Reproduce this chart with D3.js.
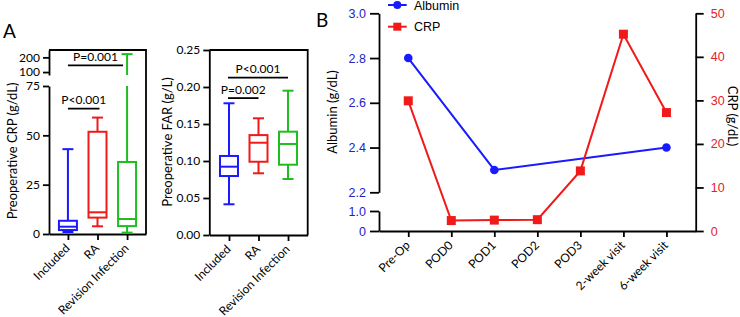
<!DOCTYPE html>
<html>
<head>
<meta charset="utf-8">
<script src="https://cdn.jsdelivr.net/npm/d3@7"></script>
<style>
  body { margin: 0; background: #fff; }
  svg text { font-family: Lato, "Open Sans", sans-serif; }
  .arial text, text.arial { font-family: "Liberation Sans", Arial, sans-serif; }
</style>
</head>
<body>
<div id="chart"></div>
<script>
// Panel A data (box plot stats)
const groups = ["Included", "RA", "Revision Infection"];
const groupColors = ["#1a1aff", "#f01a1a", "#1fbd1f"];

const crpMin = [1.0, 3.9, 0.7];
const crpQ1 = [2.0, 8.3, 4.0];
const crpMedian = [3.7, 11.0, 7.6];
const crpQ3 = [6.7, 51.8, 36.5];
const crpMax = [43, 59, 222];
const crpTicksLow = [0, 25, 50, 75];
const crpTicksHigh = [100, 200];

const farMin = [0.0415, 0.0834, 0.0757];
const farQ1 = [0.0797, 0.099, 0.095];
const farMedian = [0.0923, 0.1247, 0.123];
const farQ3 = [0.1068, 0.135, 0.1396];
const farMax = [0.178, 0.1577, 0.195];
const farTicks = [0, 0.05, 0.10, 0.15, 0.20, 0.25];

// Panel B data
const timepoints = ["Pre-Op", "POD0", "POD1", "POD2", "POD3", "2-week visit", "6-week visit"];
const albumin = [2.8, null, 2.3, null, null, null, 2.4];
const crp = [29.9, 2.4, 2.5, 2.6, 13.8, 45.2, 27.2];
const albTicksHigh = [2.2, 2.4, 2.6, 2.8, 3.0];
const albTicksLow = [0, 1.0];
const crpTicksB = [0, 10, 20, 30, 40, 50];

const blue = "#1a1aff", red = "#f01a1a";

const svg = d3.select("#chart").append("svg")
  .attr("width", 740).attr("height", 317);
svg.append("rect").attr("width", 740).attr("height", 317).attr("fill", "#fff");

// axis styling helper
function styleAxis(g, size) {
  g.selectAll("path, line").attr("stroke", "#000").attr("stroke-width", 1.8);
  g.selectAll("text").attr("fill", "#000").style("font-size", (size || 12) + "px");
  return g;
}

// draw a box plot, clipped to the given axis segments
function drawBox(g, cx, color, s, segs) {
  const bw = 18, cw = 11;
  const clipLine = (a, b) => segs.forEach(seg => {
    const lo = Math.max(a, seg.d[0]), hi = Math.min(b, seg.d[1]);
    if (lo < hi) g.append("line").attr("x1", cx).attr("x2", cx)
      .attr("y1", seg.y(lo)).attr("y2", seg.y(hi))
      .attr("stroke", color).attr("stroke-width", 2);
  });
  const hLine = (v, w) => {
    const seg = segs.find(sg => v >= sg.d[0] && v <= sg.d[1]);
    g.append("line").attr("x1", cx - w / 2).attr("x2", cx + w / 2)
      .attr("y1", seg.y(v)).attr("y2", seg.y(v))
      .attr("stroke", color).attr("stroke-width", 2);
  };
  clipLine(s.min, s.q1);
  clipLine(s.q3, s.max);
  hLine(s.min, cw);
  hLine(s.max, cw);
  const y = segs[0].y;
  g.append("rect").attr("x", cx - bw / 2).attr("width", bw)
    .attr("y", y(s.q3)).attr("height", y(s.q1) - y(s.q3))
    .attr("fill", "none").attr("stroke", color).attr("stroke-width", 2);
  hLine(s.median, bw);
}

function sigBar(g, x1, x2, y, label) {
  g.append("line").attr("x1", x1).attr("x2", x2).attr("y1", y).attr("y2", y)
    .attr("stroke", "#000").attr("stroke-width", 1.8);
  g.append("text").attr("x", (x1 + x2) / 2).attr("y", y - 4.5)
    .attr("text-anchor", "middle").style("font-size", "12px").text(label);
}

function frame(g, x0, x1, y0, y1) {
  g.append("path").attr("d", `M${x0},${y0}H${x1}V${y1}`)
    .attr("fill", "none").attr("stroke", "#000").attr("stroke-width", 1.8);
}

// bottom axis with labels rotated 45 degrees
function xLabels(g, x, yBase) {
  g.append("g").attr("transform", `translate(0,${yBase})`)
    .call(d3.axisBottom(x).tickSizeInner(6).tickSizeOuter(0))
    .call(gg => styleAxis(gg, 12))
    .selectAll("text")
      .attr("x", 0).attr("y", 0)
      .attr("text-anchor", "end")
      .attr("dy", "0.35em")
      .attr("transform", "translate(-1,12) rotate(-45)");
}

// ---------- Panel A: CRP ----------
svg.append("text").attr("x", 3).attr("y", 38).style("font-size", "19px").text("A");

const gA1 = svg.append("g");
const xA1 = d3.scalePoint().domain(groups).range([49, 146]).padding(0.64);
const yLow = d3.scaleLinear().domain([0, 75]).range([234, 86]);
const yHigh = d3.scaleLinear().domain([80, 250]).range([75, 50]);

gA1.append("g").attr("transform", "translate(49,0)")
  .call(d3.axisLeft(yLow).tickValues(crpTicksLow).tickSizeInner(6).tickSizeOuter(0).tickPadding(3))
  .call(g => styleAxis(g));
gA1.append("g").attr("transform", "translate(49,0)")
  .call(d3.axisLeft(yHigh).tickValues(crpTicksHigh).tickSizeInner(6).tickSizeOuter(0).tickPadding(3))
  .call(g => styleAxis(g));
frame(gA1, 49, 146, 50, 234);
xLabels(gA1, xA1, 234);

groups.forEach((grp, i) => drawBox(gA1, xA1(grp), groupColors[i],
  {min: crpMin[i], q1: crpQ1[i], median: crpMedian[i], q3: crpQ3[i], max: crpMax[i]},
  [{y: yLow, d: [0, 75]}, {y: yHigh, d: [80, 250]}]));

sigBar(gA1, xA1(groups[0]), xA1(groups[2]) - 4, yHigh(146), "P=0.001");
sigBar(gA1, xA1(groups[0]), xA1(groups[1]) + 2, yLow(63.5), "P<0.001");

gA1.append("text").attr("transform", "translate(17,151) rotate(-90)")
  .attr("text-anchor", "middle").style("font-size", "13px").text("Preoperative CRP (g/dL)");

// ---------- Panel A: FAR ----------
const gA2 = svg.append("g");
const xA2 = d3.scalePoint().domain(groups).range([209.3, 307.7]).padding(0.667);
const yFar = d3.scaleLinear().domain([0, 0.25]).range([235, 50]);

gA2.append("g").attr("transform", "translate(209.3,0)")
  .call(d3.axisLeft(yFar).tickValues(farTicks).tickFormat(d3.format(".2f"))
    .tickSizeInner(6).tickSizeOuter(0).tickPadding(3))
  .call(g => styleAxis(g));
frame(gA2, 209.3, 307.7, 50, 235);
xLabels(gA2, xA2, 235);

groups.forEach((grp, i) => drawBox(gA2, xA2(grp), groupColors[i],
  {min: farMin[i], q1: farQ1[i], median: farMedian[i], q3: farQ3[i], max: farMax[i]},
  [{y: yFar, d: [0, 0.25]}]));

sigBar(gA2, xA2(groups[0]) - 1, xA2(groups[2]), yFar(0.2128), "P<0.001");
sigBar(gA2, xA2(groups[0]) - 1, xA2(groups[1]), yFar(0.185), "P=0.002");

gA2.append("text").attr("transform", "translate(172,142) rotate(-90)")
  .attr("text-anchor", "middle").style("font-size", "13px").text("Preoperative FAR (g/L)");

// ---------- Panel B ----------
svg.append("text").attr("x", 316).attr("y", 27).style("font-size", "19px").text("B");

const gB = svg.append("g");
const xB = d3.scalePoint().domain(timepoints).range([379, 695.7]).padding(0.68);
const yAlbHigh = d3.scaleLinear().domain([2.2, 3.0]).range([192.3, 13.3]);
const yAlbLow = d3.scaleLinear().domain([0, 1.0]).range([231, 211]);
const yCrpB = d3.scaleLinear().domain([0, 50]).range([231, 13.3]);

// bottom axis
xLabels(gB, xB, 231);

// left broken axis
[[yAlbHigh, albTicksHigh, d3.format(".1f")], [yAlbLow, albTicksLow, d => d === 0 ? "0" : d3.format(".1f")(d)]]
  .forEach(([sc, tv, fmt]) => {
    gB.append("g").attr("class", "arial").attr("transform", "translate(379,0)")
      .call(d3.axisLeft(sc).tickValues(tv).tickFormat(fmt).tickSizeInner(9).tickSizeOuter(0).tickPadding(4))
      .call(g => styleAxis(g, 12.5))
      .selectAll("text").attr("fill", "#2222cc");
  });

// right axis
gB.append("g").attr("class", "arial").attr("transform", "translate(695.7,0)")
  .call(d3.axisRight(yCrpB).tickValues(crpTicksB).tickSizeInner(8).tickSizeOuter(0).tickPadding(7))
  .call(g => styleAxis(g, 12.5))
  .selectAll("text").attr("fill", "#e8202a");

// albumin line
const albPts = timepoints.map((t, i) => [xB(t), albumin[i]]).filter(d => d[1] != null);
gB.append("path").datum(albPts)
  .attr("d", d3.line().x(d => d[0]).y(d => yAlbHigh(d[1])))
  .attr("fill", "none").attr("stroke", blue).attr("stroke-width", 2);
gB.selectAll(".alb").data(albPts).join("circle").attr("class", "alb")
  .attr("cx", d => d[0]).attr("cy", d => yAlbHigh(d[1])).attr("r", 4.3).attr("fill", blue);

// CRP line
gB.append("path").datum(crp)
  .attr("d", d3.line().x((d, i) => xB(timepoints[i])).y(d => yCrpB(d)))
  .attr("fill", "none").attr("stroke", red).attr("stroke-width", 2);
gB.selectAll(".crp").data(crp).join("rect").attr("class", "crp")
  .attr("x", (d, i) => xB(timepoints[i]) - 4.5).attr("y", d => yCrpB(d) - 4.5)
  .attr("width", 9).attr("height", 9).attr("fill", red);

// legend
const legend = gB.append("g").attr("class", "arial");
[["Albumin", blue, 5], ["CRP", red, 26.7]].forEach(([name, c, ly], i) => {
  legend.append("line").attr("x1", 388).attr("x2", 406.7).attr("y1", ly).attr("y2", ly)
    .attr("stroke", c).attr("stroke-width", 2);
  if (i === 0) legend.append("circle").attr("cx", 397.3).attr("cy", ly).attr("r", 4).attr("fill", c);
  else legend.append("rect").attr("x", 393.3).attr("y", ly - 4).attr("width", 8).attr("height", 8).attr("fill", c);
  legend.append("text").attr("x", 414).attr("y", ly + 4.5).style("font-size", "12.5px").text(name);
});

gB.append("text").attr("transform", "translate(337,112) rotate(-90)")
  .attr("text-anchor", "middle").style("font-size", "13px").text("Albumin (g/dL)");
gB.append("text").attr("transform", "translate(728,116) rotate(90)")
  .attr("text-anchor", "middle").style("font-size", "13px").text("CRP (g/dL)");
</script>
</body>
</html>
